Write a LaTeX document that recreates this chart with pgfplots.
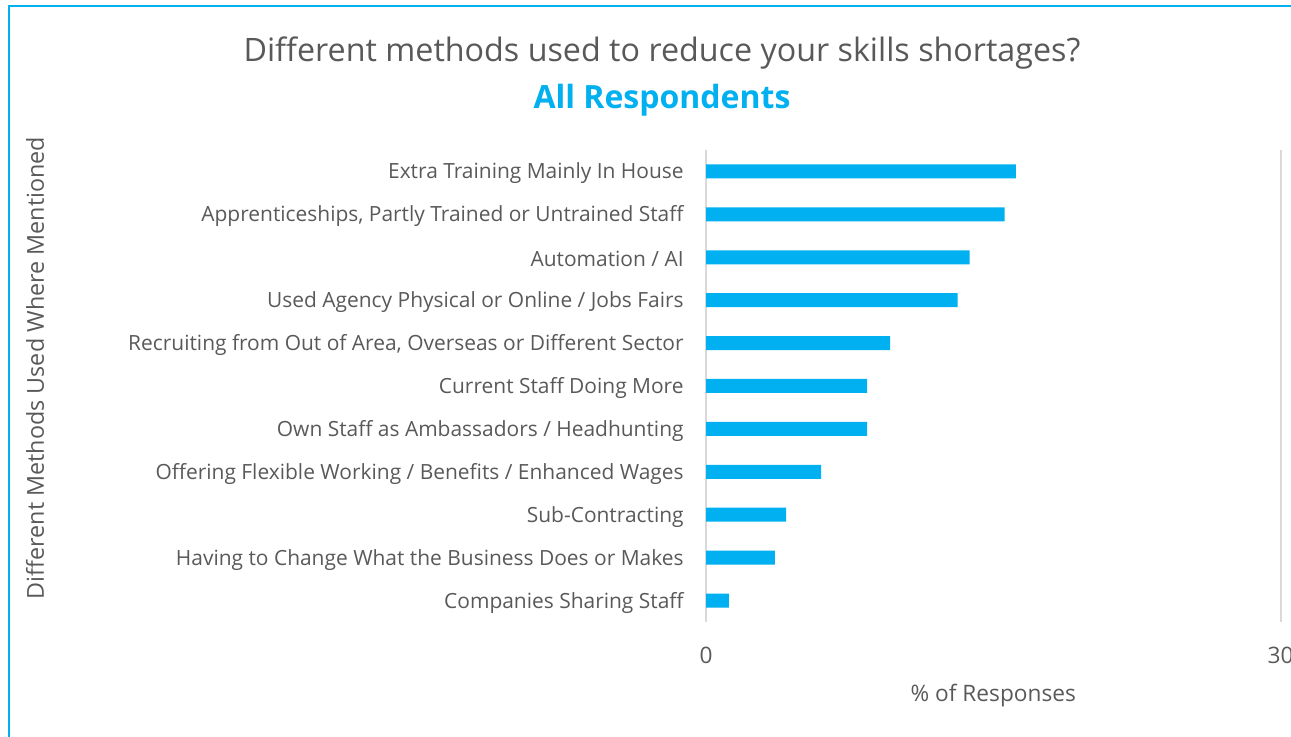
\documentclass[border=0pt]{standalone}
\usepackage{pgfplots}
\pgfplotsset{compat=1.18}
\usepackage{fontspec}
\setmainfont{Open Sans}
\definecolor{barblue}{HTML}{00B0F0}
\definecolor{txtgray}{HTML}{595959}
\definecolor{gridgray}{HTML}{D9D9D9}
\begin{document}
\begin{tikzpicture}
\path[use as bounding box] (0pt,0pt) rectangle (968.25pt,552.75pt);
\draw[barblue, line width=2pt] (6.75pt,-5pt) -- (6.75pt,548.25pt) -- (975pt,548.25pt);
\node[txtgray, font=\fontsize{24.2}{28}\selectfont] at (496.5pt,513pt) {Different methods used to reduce your skills shortages?};
\node[barblue, font=\bfseries\fontsize{24}{28}\selectfont] at (496.5pt,477.75pt) {All Respondents};
\node[txtgray, rotate=90, font=\fontsize{17.5}{20}\selectfont] at (26.25pt,276.75pt) {Different Methods Used Where Mentioned};
\begin{axis}[
  at={(529.5pt,86.25pt)}, anchor=south west, scale only axis,
  width=430.9pt, height=354pt,
  xbar, bar width=10.5pt,
  xmin=0, xmax=30, ymin=-0.5, ymax=10.5,
  xtick={0,30}, ytick={0,...,10},
  yticklabels={Companies Sharing Staff,
    Having to Change What the Business Does or Makes,
    Sub-Contracting,
    Offering Flexible Working / Benefits / Enhanced Wages,
    Own Staff as Ambassadors / Headhunting,
    Current Staff Doing More,
    {Recruiting from Out of Area, Overseas or Different Sector},
    Used Agency Physical or Online / Jobs Fairs,
    Automation / AI,
    {Apprenticeships, Partly Trained or Untrained Staff},
    Extra Training Mainly In House},
  axis line style={draw=none},
  major tick style={draw=none},
  xmajorgrids, major grid style={gridgray, line width=1.5pt},
  /pgf/number format/assume math mode=true,
  tick label style={txtgray},
  yticklabel style={font=\fontsize{15.7}{19}\selectfont, xshift=-9pt, yshift=-1.5pt},
  xticklabel style={font=\fontsize{17}{20}\selectfont, yshift=-15pt},
  xlabel={\% of Responses},
  xlabel style={txtgray, font=\fontsize{17}{20}\selectfont, yshift=-8.5pt},
]
\addplot[fill=barblue, draw=none] coordinates {
(1.19,0) (3.6,1) (4.19,2) (6.01,3) (8.41,4) (8.41,5) (9.62,6) (13.14,7) (13.77,8) (15.59,9) (16.18,10)};
\end{axis}
\end{tikzpicture}
\end{document}
